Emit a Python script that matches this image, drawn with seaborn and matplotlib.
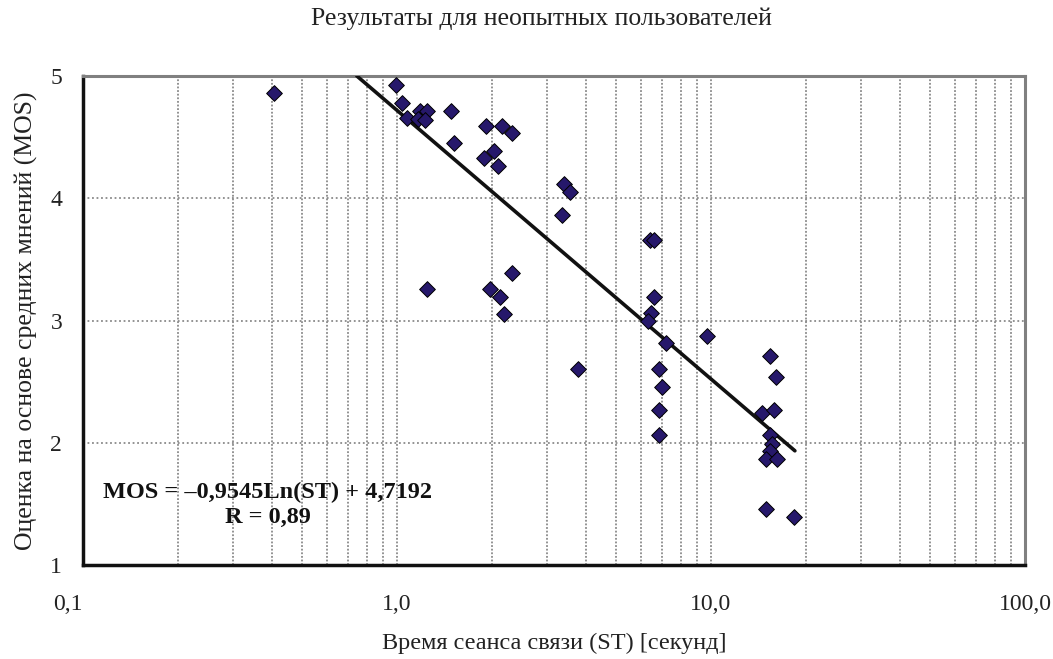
import numpy as np
import pandas as pd
import matplotlib
matplotlib.use("Agg")
import matplotlib.pyplot as plt
import matplotlib.ticker as mticker
import seaborn as sns

# ---- data ----
st = [0.405, 0.995, 1.04, 1.08, 1.18, 1.25, 1.17, 1.23, 1.49, 1.52,
      1.92, 2.16, 2.32, 2.04, 1.89, 2.10, 3.40, 3.56, 3.35, 6.40, 6.58,
      1.25, 1.98, 2.32, 2.13, 2.19, 3.77, 6.58, 6.44, 6.30, 9.70, 7.19,
      6.83, 6.99, 6.83, 6.83, 15.4, 16.1, 14.5, 15.9, 15.4, 15.6, 15.4,
      15.0, 16.2, 15.0, 18.4]
mos = [4.86, 4.93, 4.78, 4.66, 4.71, 4.71, 4.65, 4.64, 4.71, 4.45,
       4.59, 4.59, 4.53, 4.39, 4.33, 4.26, 4.12, 4.05, 3.86, 3.66, 3.66,
       3.26, 3.26, 3.39, 3.19, 3.05, 2.60, 3.19, 3.06, 3.00, 2.87, 2.82,
       2.60, 2.46, 2.27, 2.06, 2.71, 2.54, 2.24, 2.27, 2.06, 1.99, 1.93,
       1.87, 1.87, 1.46, 1.39]

# logarithmic trend: MOS = a*ln(ST) + b, drawn over the data range
trend_a = -0.9545
trend_b = 4.7192
trend_range = [0.745, 18.5]

x_ticks = [0.1, 1.0, 10.0, 100.0]
x_tick_labels = ["0,1", "1,0", "10,0", "100,0"]
y_ticks = [1, 2, 3, 4, 5]

title = "Результаты для неопытных пользователей"
xlabel = "Время сеанса связи (ST) [секунд]"
ylabel = "Оценка на основе средних мнений (MOS)"
eq_text = "MOS = –0,9545Ln(ST) + 4,7192\nR = 0,89"

# ---- plot ----
sns.set_style("white")
plt.rcParams["font.family"] = ["Liberation Serif", "DejaVu Serif"]

df = pd.DataFrame({"ST": st, "MOS": mos})
tx = np.geomspace(trend_range[0], trend_range[1], 60)
trend = pd.DataFrame({"ST": tx, "MOS": trend_a * np.log(tx) + trend_b})

fig = plt.figure(figsize=(10.53, 6.59), dpi=100)
ax = fig.add_axes([83 / 1053, 1 - 565 / 659, (1025 - 83) / 1053, (565 - 76) / 659])
ax.set_xscale("log")
ax.set_xlim(0.1, 100)
ax.set_ylim(1, 5)

# grid
ax.xaxis.set_major_locator(mticker.FixedLocator(x_ticks))
ax.xaxis.set_minor_locator(mticker.LogLocator(base=10, subs=np.arange(2, 10)))
ax.xaxis.set_minor_formatter(mticker.NullFormatter())
ax.set_xticks(x_ticks)
ax.set_xticklabels(x_tick_labels)
ax.set_yticks(y_ticks)
ax.grid(True, which="both", axis="x", color="#8a8a8a", linestyle=(0, (1, 1)), linewidth=1.3)
ax.grid(True, which="major", axis="y", color="#8a8a8a", linestyle=(0, (1, 1.5)), linewidth=1.3)
ax.set_axisbelow(True)

sns.lineplot(data=trend, x="ST", y="MOS", ax=ax, color="#111111", linewidth=2.6, zorder=3)
sns.scatterplot(data=df, x="ST", y="MOS", ax=ax, marker="D", s=64,
                color="#26186b", edgecolor="#000000", linewidth=0.7, zorder=4)

for side in ["left", "bottom"]:
    ax.spines[side].set_color("#111111")
    ax.spines[side].set_linewidth(2.5)
for side in ["top", "right"]:
    ax.spines[side].set_color("#808080")
    ax.spines[side].set_linewidth(2.2)

ax.tick_params(axis="both", which="major", direction="out", length=6, width=2.5,
               color="#111111", labelsize=17, labelcolor="#222222")
ax.tick_params(axis="x", which="minor", length=0)
ax.tick_params(axis="x", pad=15)
ax.tick_params(axis="y", pad=9)
ax.get_xticklabels()[0].set_horizontalalignment("right")

ax.set_xlabel(xlabel, fontsize=17.5, color="#222222", labelpad=13)
ax.set_ylabel(ylabel, fontsize=18.5, color="#222222", labelpad=9)

fig.text(541 / 1053, 1 - 19 / 659, title, ha="center", va="center", fontsize=18.5, color="#222222")

ax.text(0.196, 0.123, eq_text, transform=ax.transAxes, ha="center", va="center",
        fontsize=17.5, fontweight="bold", color="#111111", linespacing=1.2, zorder=5)

fig.savefig("out.png", dpi=100)
